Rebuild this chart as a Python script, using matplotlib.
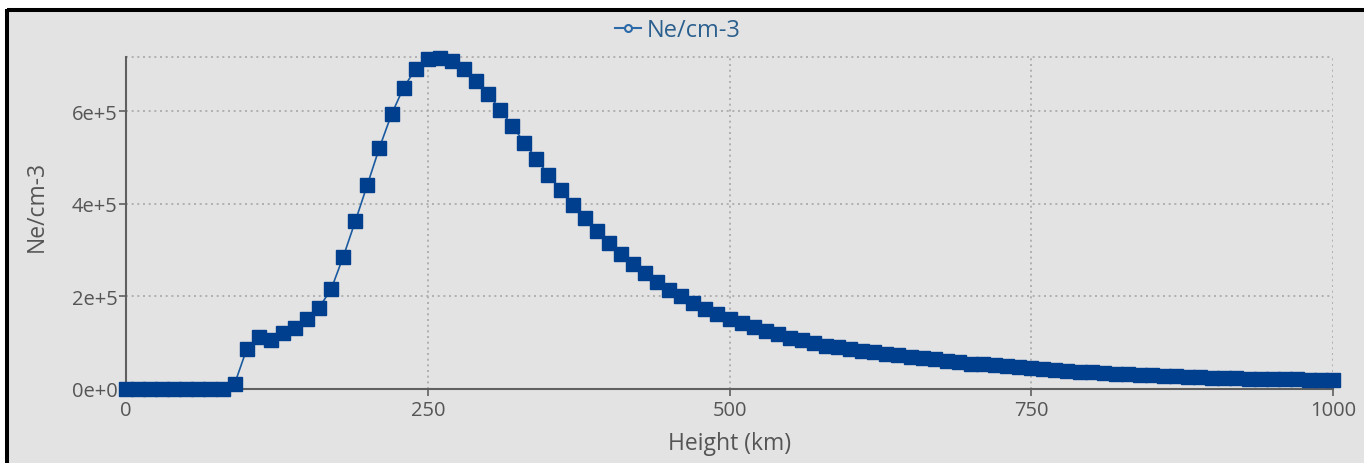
import matplotlib
matplotlib.use("Agg")
import matplotlib.pyplot as plt
from matplotlib.patches import Rectangle
from matplotlib.lines import Line2D

# electron density profile, one sample every 10 km
heights = list(range(0, 1001, 10))
ne = [
    0, 0, 0, 0, 0, 0, 0, 0, 0, 10000,                      # 0-90
    85000, 112000, 105000, 119000, 131000, 150000, 175000, 215000, 285000, 362000,   # 100-190
    441000, 521000, 593000, 651000, 691000, 712000, 715000, 709000, 691000, 665000,  # 200-290
    637000, 603000, 568000, 532000, 497000, 462000, 429000, 397000, 368000, 340000,  # 300-390
    314000, 291000, 269000, 249000, 231000, 214000, 199000, 185000, 172000, 161000,  # 400-490
    151000, 141000, 132000, 124000, 117000, 110000, 104000, 98000, 93000, 89000,     # 500-590
    86000, 82000, 79000, 75000, 72000, 69000, 66000, 63000, 60000, 57000,            # 600-690
    54000, 52000, 50000, 48000, 46000, 44000, 42000, 40000, 38000, 36500,            # 700-790
    35000, 33500, 32000, 31000, 30000, 28500, 27500, 26500, 25500, 24500,            # 800-890
    23500, 23000, 22000, 21500, 21000, 20500, 20000, 19500, 19000, 18500,            # 900-990
    18000,                                                                           # 1000
]
xticks = [0, 250, 500, 750, 1000]
yticks = [0, 200000, 400000, 600000]
ytick_labels = ["0e+0", "2e+5", "4e+5", "6e+5"]

bg = "#e3e3e3"
text_col = "#555555"
grid_col = "#a8a8a8"

plt.rcParams["font.family"] = ["Open Sans", "DejaVu Sans"]

W, H = 1364, 464
fig = plt.figure(figsize=(W / 100, H / 100), dpi=100, facecolor="white")

# panel background, dark frame on top and left only
fig.add_artist(Rectangle((7 / W, 0), 1 - 7 / W, (H - 11) / H,
                         transform=fig.transFigure, facecolor=bg,
                         edgecolor="none", zorder=0))
fig.add_artist(Line2D([7 / W, 1], [(H - 11) / H] * 2, transform=fig.transFigure,
                      color="black", linewidth=2.9, solid_capstyle="butt"))
fig.add_artist(Line2D([7 / W] * 2, [0, (H - 9.5) / H], transform=fig.transFigure,
                      color="black", linewidth=2.9, solid_capstyle="butt"))

ax = fig.add_axes([126 / W, (H - 389.5) / H, (1333 - 126) / W, (389.5 - 58) / H])
ax.set_facecolor(bg)

ax.plot(heights, ne, color="#1a5aa0", linewidth=1.2, marker="s",
        markersize=9.4, markerfacecolor="#003f8e", markeredgecolor="#003f8e",
        clip_on=False, zorder=3)

ax.set_xlim(0, 1000)
ax.set_ylim(0, 717000)
ax.set_xticks(xticks)
ax.set_xticklabels([str(t) for t in xticks])
ax.set_yticks(yticks)
ax.set_yticklabels(ytick_labels)

ax.grid(True, color=grid_col, linestyle=(0, (1.2, 2.2)), linewidth=1.2)
ax.axhline(717000, color=grid_col, linestyle=(0, (1.2, 2.2)), linewidth=1.2, clip_on=False)

for side in ["top", "right"]:
    ax.spines[side].set_visible(False)
for side in ["left", "bottom"]:
    ax.spines[side].set_color("#606060")
    ax.spines[side].set_linewidth(1.5)

ax.tick_params(axis="both", colors="#606060", labelcolor=text_col,
               labelsize=14.5, length=5, width=1.2)
ax.tick_params(axis="x", pad=3)
ax.tick_params(axis="y", pad=1)

ax.set_xlabel("Height (km)", fontsize=16.5, color=text_col, labelpad=8)
ax.set_ylabel("Ne/cm-3", fontsize=16.5, color=text_col)
ax.yaxis.set_label_coords(-0.064, 0.553)

handle = Line2D([], [], color="#2b6aa8", linewidth=1.5, marker="o",
                markersize=5, markerfacecolor=bg, markeredgecolor="#2b6aa8",
                markeredgewidth=1.5)
ax.legend([handle], ["Ne/cm-3"], loc="center", bbox_to_anchor=(0.457, 1.0 + 27 / 331.5),
          frameon=False, fontsize=17, labelcolor="#2b5f8e", handlelength=1.1,
          handletextpad=0.25)

fig.savefig("out.png", dpi=100, facecolor="white")
